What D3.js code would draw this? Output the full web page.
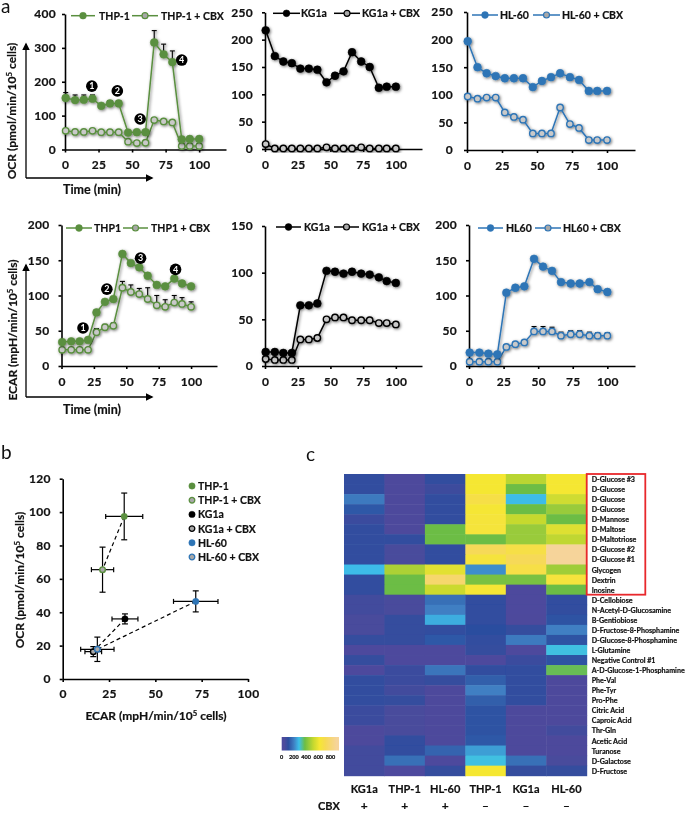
<!DOCTYPE html>
<html>
<head>
<meta charset="utf-8">
<style>
html, body { margin: 0; padding: 0; background: #fff; }
svg { display: block; filter: blur(0.35px); }
text { font-family: Lato, "Open Sans", sans-serif; font-weight: 700; fill: #111; stroke: #111; stroke-width: 0.2px; }
</style>
<script src="https://cdn.jsdelivr.net/npm/d3@7"></script>
</head>
<body>
<svg></svg>
<script>
// time points shared by all the flux panels (min)
var times = [0.5, 7.5, 14, 20.5, 27, 33.5, 40, 47, 53.5, 60, 66.5, 73.5, 80, 87, 93, 100];

// panel a, OCR row
var ocrThp = [152, 146, 147, 150, 129, 136, 136, 50, 51, 51, 316, 281, 258, 30, 31, 31];
var ocrThpErr = [16, 15, 14, 11, 6, 8, 8, 3, 3, 3, 35, 30, 33, 3, 3, 3];
var ocrThpCbx = [55, 52, 52, 55, 51, 51, 51, 23, 19, 20, 87, 83, 80, 10, 10, 10];
var ocrKg = [217, 170, 160, 157, 147, 147, 145, 122, 134, 142, 177, 160, 150, 112, 114, 114];
var ocrKgCbx = [9, 1, 1, 1, 1, 1, 1, 3, 1, 1, 1, 3, 1, 1, 1, 1];
var ocrHl = [197, 150, 139, 134, 130, 130, 130, 114, 125, 132, 139, 132, 127, 107, 107, 107];
var ocrHlCbx = [97, 93, 95, 95, 68, 60, 55, 30, 30, 30, 77, 47, 40, 18, 18, 18];

// panel a, ECAR row
var ecarThp = [34, 35, 35, 37, 76, 91, 95, 159, 146, 140, 128, 115, 113, 124, 117, 113];
var ecarThpCbx = [23, 23, 23, 23, 48, 55, 57, 111, 105, 102, 95, 86, 84, 90, 88, 84];
var ecarThpCbxErr = [0, 0, 0, 0, 5, 4, 4, 9, 10, 8, 16, 14, 10, 10, 9, 7];
var ecarKg = [15, 15, 14, 14, 65, 65, 67, 102, 101, 99, 101, 99, 98, 95, 91, 89];
var ecarKgCbx = [7.5, 6.5, 6.5, 6.5, 28.5, 28.5, 30, 50, 52, 52, 49, 49, 49, 46, 46, 44.5];
var ecarHl = [19, 19, 17.5, 16.5, 104, 111, 113, 152, 141, 135, 119, 117, 117, 119, 109, 105];
var ecarHlCbx = [6, 6, 6, 6, 27, 31, 33.5, 49, 49, 49, 43, 45, 45, 43, 43, 43];
var ecarHlCbxErr = [0, 0, 0, 0, 3, 3, 3, 7, 7, 6, 5, 5, 5, 5, 4, 4];

// injection marks: [time, value, number]
var ocrMarks = [[20, 187, "1"], [39, 173, "2"], [56, 90, "3"], [87, 264, "4"]];
var ecarMarks = [[16.6, 54, "1"], [35, 109, "2"], [61, 153, "3"], [88, 137, "4"]];

// panel b
var scatterNames = ["THP-1", "THP-1 + CBX", "KG1a", "KG1a + CBX", "HL-60", "HL-60 + CBX"];
var ecarMean = [33.2, 21.5, 33.6, 16.5, 71.8, 18.7];
var ecarErr = [10, 6, 7, 4.5, 12, 9];
var ocrMean = [97.4, 65.5, 36, 16.4, 46.5, 17.8];
var ocrErr = [14, 13.5, 3, 3, 6.3, 7.3];

// panel c
var heatCols = ["KG1a", "THP-1", "HL-60", "THP-1 ", "KG1a ", "HL-60 "];
var heatCbx = ["+", "+", "+", "\u2013", "\u2013", "\u2013"];
var heatRows = ["D-Glucose #3", "D-Glucose", "D-Glucose ", "D-Glucose  ", "D-Mannose", "D-Maltose", "D-Maltotriose",
    "D-Glucose #2", "D-Glucose #1", "Glycogen", "Dextrin", "Inosine", "D-Cellobiose", "N-Acetyl-D-Glucosamine",
    "B-Gentiobiose", "D-Fructose-8-Phosphamine", "D-Glucose-8-Phosphamine", "L-Glutamine", "Negative Control #1",
    "A-D-Glucose-1-Phosphamine", "Phe-Val", "Phe-Tyr", "Pro-Phe", "Citric Acid", "Caproic Acid", "Thr-Gln",
    "Acetic Acid", "Turanose", "D-Galactose", "D-Fructose"];
var heatValues = [
    [100, 40, 100, 620, 500, 620],
    [100, 40, 70, 620, 380, 620],
    [190, 40, 100, 680, 280, 540],
    [130, 40, 100, 630, 380, 450],
    [80, 40, 100, 640, 520, 380],
    [100, 40, 380, 640, 450, 570],
    [100, 100, 380, 380, 450, 510],
    [100, 50, 100, 730, 680, 900],
    [100, 50, 100, 650, 730, 900],
    [280, 480, 580, 220, 680, 460],
    [100, 380, 780, 400, 400, 650],
    [100, 380, 530, 630, 30, 380],
    [60, 50, 170, 100, 30, 100],
    [60, 50, 200, 100, 30, 100],
    [50, 90, 260, 100, 40, 120],
    [50, 90, 100, 110, 90, 200],
    [90, 90, 130, 100, 190, 120],
    [30, 30, 30, 90, 30, 290],
    [90, 30, 30, 30, 80, 120],
    [30, 80, 180, 100, 100, 370],
    [100, 80, 90, 140, 100, 40],
    [100, 60, 40, 200, 100, 40],
    [100, 90, 40, 140, 100, 40],
    [80, 50, 40, 120, 40, 40],
    [80, 50, 40, 120, 40, 40],
    [40, 50, 40, 120, 40, 60],
    [40, 100, 40, 130, 40, 40],
    [60, 100, 150, 240, 40, 40],
    [60, 170, 30, 290, 170, 50],
    [60, 30, 90, 620, 90, 90]
];
var colorStops = [0, 40, 110, 200, 285, 380, 520, 620, 720, 900];
var colorValues = ["#4b4a9e", "#4d4a9c", "#2b4e9f", "#3f7fc3", "#3cc0ea", "#6cbd45", "#c6d92f", "#f5e733", "#f6d955", "#f6d49a"];
var legendTicks = [0, 200, 400, 600, 800];

var green = "#5a8f3f", black = "#000000", blue = "#2e75b6";

var svg = d3.select("svg").attr("width", 685).attr("height", 813);
var defs = svg.append("defs");

var shadow = defs.append("filter").attr("id", "shadow")
    .attr("x", "-10%").attr("y", "-10%").attr("width", "120%").attr("height", "120%");
shadow.append("feDropShadow").attr("dx", 1).attr("dy", 1)
    .attr("stdDeviation", 1.4).attr("flood-color", "#000").attr("flood-opacity", 0.55);

// arrow head for the Time / OCR arrows
defs.append("marker").attr("id", "arrow").attr("viewBox", "0 0 10 10")
    .attr("refX", 8).attr("refY", 5).attr("markerWidth", 6).attr("markerHeight", 6)
    .attr("orient", "auto")
    .append("path").attr("d", "M0,0L10,5L0,10Z").attr("fill", "#000");

// x0,x1 cover 0..120 min, yTop,yBot cover the y domain
var panels = [
    {x0: 65, x1: 226, yTop: 14, yBot: 149.5, yMax: 400, step: 100, pad: 9, color: green,
        a: ocrThp, aErr: ocrThpErr, b: ocrThpCbx, names: ["THP-1", "THP-1 + CBX"], marks: ocrMarks,
        leg: [15.7, 71, 95, 99, 132, 158, 161]},
    {x0: 265, x1: 422, yTop: 12.3, yBot: 149, yMax: 250, step: 50, pad: 12, color: black,
        a: ocrKg, b: ocrKgCbx, names: ["KG1a", "KG1a + CBX"],
        leg: [13.3, 273, 300, 301, 334, 360, 362]},
    {x0: 467, x1: 635, yTop: 12, yBot: 150, yMax: 250, step: 50, pad: 14, color: blue,
        a: ocrHl, b: ocrHlCbx, names: ["HL-60", "HL-60 + CBX"],
        leg: [15, 472, 498, 500, 533, 560, 562]},
    {x0: 61.5, x1: 217, yTop: 225, yBot: 366, yMax: 200, step: 50, pad: 12, color: green,
        a: ecarThp, b: ecarThpCbx, bErr: ecarThpCbxErr, names: ["THP1", "THP1 + CBX"], marks: ecarMarks,
        leg: [228, 66, 92, 94, 123, 148, 151]},
    {x0: 265, x1: 422, yTop: 226, yBot: 366, yMax: 150, step: 50, pad: 12, color: black,
        a: ecarKg, b: ecarKgCbx, names: ["KG1a", "KG1a + CBX"],
        leg: [227, 276, 301, 304, 334, 359, 362]},
    {x0: 469, x1: 635, yTop: 225, yBot: 366, yMax: 200, step: 50, pad: 12, color: blue,
        a: ecarHl, b: ecarHlCbx, bErr: ecarHlCbxErr, names: ["HL60", "HL60 + CBX"],
        leg: [228, 478, 503, 506, 535, 561, 563]}
];

panels.forEach(drawPanel);

function styleAxis(g, fontSize) {
    g.selectAll("path, line").attr("stroke", "#000").attr("stroke-width", 1.6);
    g.selectAll("text").attr("font-size", fontSize).attr("letter-spacing", 0.3).attr("font-family", "Lato").attr("font-weight", 700);
}

function drawPanel(p) {
    var x = d3.scaleLinear().domain([0, 120]).range([p.x0, p.x1]);
    var y = d3.scaleLinear().domain([0, p.yMax]).range([p.yBot, p.yTop]);

    var gx = svg.append("g").attr("transform", "translate(0," + p.yBot + ")")
        .call(d3.axisBottom(x).tickValues([0, 25, 50, 75, 100]).tickSize(3).tickPadding(8).tickSizeOuter(0));
    styleAxis(gx, 12);
    var gy = svg.append("g").attr("transform", "translate(" + p.x0 + ",0)")
        .call(d3.axisLeft(y).tickValues(d3.range(0, p.yMax + 1, p.step)).tickSize(3).tickPadding(p.pad - 3).tickSizeOuter(0));
    styleAxis(gy, 12);

    var line = d3.line().x(function (d, i) { return x(times[i]); }).y(function (d) { return y(d); });

    [{v: p.b, err: p.bErr, open: true}, {v: p.a, err: p.aErr, open: false}].forEach(function (s) {
        var g = svg.append("g").attr("filter", "url(#shadow)");
        if (s.err) {
            var gErr = g.append("g").attr("stroke", "#000").attr("stroke-width", 1.1);
            gErr.selectAll("line.stem").data(s.err).enter().append("line").attr("class", "stem")
                .attr("x1", function (d, i) { return x(times[i]); })
                .attr("x2", function (d, i) { return x(times[i]); })
                .attr("y1", function (d, i) { return y(s.v[i]); })
                .attr("y2", function (d, i) { return y(s.v[i] + d); });
            gErr.selectAll("line.cap").data(s.err).enter().append("line").attr("class", "cap")
                .attr("x1", function (d, i) { return x(times[i]) - 2.5; })
                .attr("x2", function (d, i) { return x(times[i]) + 2.5; })
                .attr("y1", function (d, i) { return y(s.v[i] + d); })
                .attr("y2", function (d, i) { return y(s.v[i] + d); });
        }
        g.append("path").datum(s.v).attr("d", line).attr("fill", "none")
            .attr("stroke", p.color).attr("stroke-width", 1.5);
        g.selectAll("circle").data(s.v).enter().append("circle")
            .attr("cx", function (d, i) { return x(times[i]); })
            .attr("cy", function (d) { return y(d); })
            .attr("r", s.open ? 3.2 : 3.9)
            .attr("fill", s.open ? "#c9c9c9" : p.color)
            .attr("stroke", p.color).attr("stroke-width", s.open ? 1.4 : 0.6);
    });

    // legend
    var l = p.leg;
    [[l[1], l[2], l[3], p.names[0], false], [l[4], l[5], l[6], p.names[1], true]].forEach(function (e) {
        svg.append("line").attr("x1", e[0]).attr("x2", e[1]).attr("y1", l[0]).attr("y2", l[0])
            .attr("stroke", p.color).attr("stroke-width", 1.5);
        svg.append("circle").attr("cx", (e[0] + e[1]) / 2).attr("cy", l[0]).attr("r", e[4] ? 3 : 3.4)
            .attr("fill", e[4] ? "#a8a8a8" : p.color).attr("stroke", p.color).attr("stroke-width", e[4] ? 1.2 : 0.5);
        svg.append("text").attr("x", e[2]).attr("y", l[0] + 4).attr("font-size", 10.5).text(e[3]);
    });

    // numbered injection marks
    if (p.marks) {
        var m = svg.append("g").selectAll("g").data(p.marks).enter().append("g")
            .attr("transform", function (d) { return "translate(" + x(d[0]) + "," + y(d[1]) + ")"; });
        m.append("circle").attr("r", 5.8).attr("fill", "#000");
        m.append("text").attr("text-anchor", "middle").attr("y", 3.3).attr("font-size", 9)
            .style("fill", "#fff").style("stroke", "none").text(function (d) { return d[2]; });
    }
}

// label with a raised 5 in "10^5"
function unitLabel(sel, before, after, size) {
    sel.attr("font-size", size).attr("text-anchor", "middle");
    sel.append("tspan").text(before);
    sel.append("tspan").attr("dy", -4).attr("font-size", size * 0.65).text("5");
    sel.append("tspan").attr("dy", 4).text(after);
}

function arrow(x1, y1, x2, y2) {
    svg.append("line").attr("x1", x1).attr("y1", y1).attr("x2", x2).attr("y2", y2)
        .attr("stroke", "#000").attr("stroke-width", 1.3).attr("marker-end", "url(#arrow)");
}

arrow(26, 178, 26, 44);
arrow(26, 178, 152, 178);
arrow(26, 397, 26, 265);
arrow(26, 397, 152, 397);
svg.append("text").attr("x", 92).attr("y", 194).attr("text-anchor", "middle").attr("font-size", 12.5).text("Time (min)");
svg.append("text").attr("x", 92).attr("y", 414).attr("text-anchor", "middle").attr("font-size", 12.5).text("Time (min)");
svg.append("text").attr("transform", "translate(16,111) rotate(-90)")
    .call(unitLabel, "OCR (pmol/min/10", " cells)", 12);
svg.append("text").attr("transform", "translate(17,330) rotate(-90)")
    .call(unitLabel, "ECAR (mpH/min/10", " cells)", 12);

svg.append("text").attr("x", 1).attr("y", 13).attr("font-size", 19).style("font-weight", 400).style("stroke", "none").text("a");
svg.append("text").attr("x", 1).attr("y", 459).attr("font-size", 19).style("font-weight", 400).style("stroke", "none").text("b");
svg.append("text").attr("x", 306).attr("y", 461).attr("font-size", 19).style("font-weight", 400).style("stroke", "none").text("c");

// panel b scatter
var sx = d3.scaleLinear().domain([0, 100]).range([62.7, 248]);
var sy = d3.scaleLinear().domain([0, 120]).range([679, 478.7]);
var gsx = svg.append("g").attr("transform", "translate(0,679)")
    .call(d3.axisBottom(sx).tickValues([0, 25, 50, 75, 100]).tickSize(3).tickPadding(7).tickSizeOuter(0));
styleAxis(gsx, 12);
var gsy = svg.append("g").attr("transform", "translate(62.7,0)")
    .call(d3.axisLeft(sy).tickValues(d3.range(0, 121, 20)).tickSize(3).tickPadding(9).tickSizeOuter(0));
styleAxis(gsy, 12);

var scatterFill = [green, "#a8a8a8", black, "#a8a8a8", blue, "#a8a8a8"];
var scatterStroke = [green, green, black, black, blue, blue];

// dashed links between each cell line and its CBX point
d3.range(0, 6, 2).forEach(function (i) {
    svg.append("line").attr("x1", sx(ecarMean[i])).attr("y1", sy(ocrMean[i]))
        .attr("x2", sx(ecarMean[i + 1])).attr("y2", sy(ocrMean[i + 1]))
        .attr("stroke", "#000").attr("stroke-width", 1.2).attr("stroke-dasharray", "4,3");
});

var pts = svg.append("g").selectAll("g").data(scatterNames).enter().append("g")
    .attr("stroke", "#000").attr("stroke-width", 1.2);
pts.append("line")
    .attr("x1", function (d, i) { return sx(ecarMean[i] - ecarErr[i]); })
    .attr("x2", function (d, i) { return sx(ecarMean[i] + ecarErr[i]); })
    .attr("y1", function (d, i) { return sy(ocrMean[i]); })
    .attr("y2", function (d, i) { return sy(ocrMean[i]); });
pts.append("line")
    .attr("x1", function (d, i) { return sx(ecarMean[i]); })
    .attr("x2", function (d, i) { return sx(ecarMean[i]); })
    .attr("y1", function (d, i) { return sy(ocrMean[i] - ocrErr[i]); })
    .attr("y2", function (d, i) { return sy(ocrMean[i] + ocrErr[i]); });
[-1, 1].forEach(function (sign) {
    pts.append("line")
        .attr("x1", function (d, i) { return sx(ecarMean[i] + sign * ecarErr[i]); })
        .attr("x2", function (d, i) { return sx(ecarMean[i] + sign * ecarErr[i]); })
        .attr("y1", function (d, i) { return sy(ocrMean[i]) - 2.5; })
        .attr("y2", function (d, i) { return sy(ocrMean[i]) + 2.5; });
    pts.append("line")
        .attr("x1", function (d, i) { return sx(ecarMean[i]) - 3; })
        .attr("x2", function (d, i) { return sx(ecarMean[i]) + 3; })
        .attr("y1", function (d, i) { return sy(ocrMean[i] + sign * ocrErr[i]); })
        .attr("y2", function (d, i) { return sy(ocrMean[i] + sign * ocrErr[i]); });
});
pts.append("circle")
    .attr("cx", function (d, i) { return sx(ecarMean[i]); })
    .attr("cy", function (d, i) { return sy(ocrMean[i]); })
    .attr("r", function (d, i) { return i % 2 ? 2.8 : 3.2; })
    .attr("fill", function (d, i) { return scatterFill[i]; })
    .attr("stroke", function (d, i) { return scatterStroke[i]; })
    .attr("stroke-width", function (d, i) { return i % 2 ? 1.4 : 0.4; });

var sl = d3.scalePoint().domain(scatterNames).range([486, 557]);
var slg = svg.append("g").selectAll("g").data(scatterNames).enter().append("g")
    .attr("transform", function (d) { return "translate(192," + sl(d) + ")"; });
slg.append("circle").attr("r", function (d, i) { return i % 2 ? 2.8 : 3.2; })
    .attr("fill", function (d, i) { return scatterFill[i]; })
    .attr("stroke", function (d, i) { return scatterStroke[i]; })
    .attr("stroke-width", function (d, i) { return i % 2 ? 1.3 : 0.4; });
slg.append("text").attr("x", 6).attr("y", 4).attr("font-size", 10.5).text(function (d) { return d; });

svg.append("text").attr("x", 156).attr("y", 720).call(unitLabel, "ECAR (mpH/min/10", " cells)", 12);
svg.append("text").attr("transform", "translate(24,580) rotate(-90)")
    .call(unitLabel, "OCR (pmol/min/10", " cells)", 12);

// panel c heatmap
var hx = d3.scaleBand().domain(heatCols).range([344, 586.7]);
var hy = d3.scaleBand().domain(heatRows).range([474, 775.7]);
var color = d3.scaleLinear().domain(colorStops).range(colorValues);

var cellBlur = defs.append("filter").attr("id", "cellBlur")
    .attr("x", "0").attr("y", "0").attr("width", "100%").attr("height", "100%");
cellBlur.append("feGaussianBlur").attr("stdDeviation", 0.5);

var cells = [];
heatValues.forEach(function (row, r) {
    row.forEach(function (v, c) { cells.push({r: heatRows[r], c: heatCols[c], v: v}); });
});
svg.append("g").attr("filter", "url(#cellBlur)").selectAll("rect").data(cells).enter().append("rect")
    .attr("x", function (d) { return hx(d.c); })
    .attr("y", function (d) { return hy(d.r); })
    .attr("width", hx.bandwidth() + 0.5)
    .attr("height", hy.bandwidth() + 0.5)
    .attr("fill", function (d) { return color(d.v); });

svg.append("g").selectAll("text").data(heatRows).enter().append("text")
    .attr("x", 591.7)
    .attr("y", function (d) { return hy(d) + hy.bandwidth() / 2 + 3; })
    .attr("font-size", 7.1)
    .text(function (d) { return d.trim(); });

svg.append("rect").attr("x", 586.7).attr("y", hy(heatRows[0]))
    .attr("width", 58.6).attr("height", hy(heatRows[12]) - hy(heatRows[0]))
    .attr("fill", "none").attr("stroke", "#e8282c").attr("stroke-width", 1.8);

svg.append("g").selectAll("text").data(heatCols).enter().append("text")
    .attr("x", function (d) { return hx(d) + hx.bandwidth() / 2; })
    .attr("y", 793).attr("text-anchor", "middle").attr("font-size", 11)
    .text(function (d) { return d.trim(); });
svg.append("g").selectAll("text").data(heatCbx).enter().append("text")
    .attr("x", function (d, i) { return hx(heatCols[i]) + hx.bandwidth() / 2; })
    .attr("y", 810).attr("text-anchor", "middle").attr("font-size", 12)
    .text(function (d) { return d; });
svg.append("text").attr("x", 318).attr("y", 810).attr("font-size", 11).text("CBX");

// colour key
var keyX = d3.scaleLinear().domain([0, 940]).range([281.7, 339]);
var grad = defs.append("linearGradient").attr("id", "keyGrad");
grad.selectAll("stop").data(colorStops).enter().append("stop")
    .attr("offset", function (d) { return d / 940; })
    .attr("stop-color", function (d, i) { return colorValues[i]; });
svg.append("rect").attr("x", keyX(0)).attr("y", 737).attr("width", keyX(940) - keyX(0)).attr("height", 13.5)
    .attr("fill", "url(#keyGrad)");
svg.append("g").selectAll("text").data(legendTicks).enter().append("text")
    .attr("x", function (d) { return keyX(d); })
    .attr("y", 759).attr("text-anchor", "middle").attr("font-size", 5.5)
    .text(function (d) { return d; });
</script>
</body>
</html>
